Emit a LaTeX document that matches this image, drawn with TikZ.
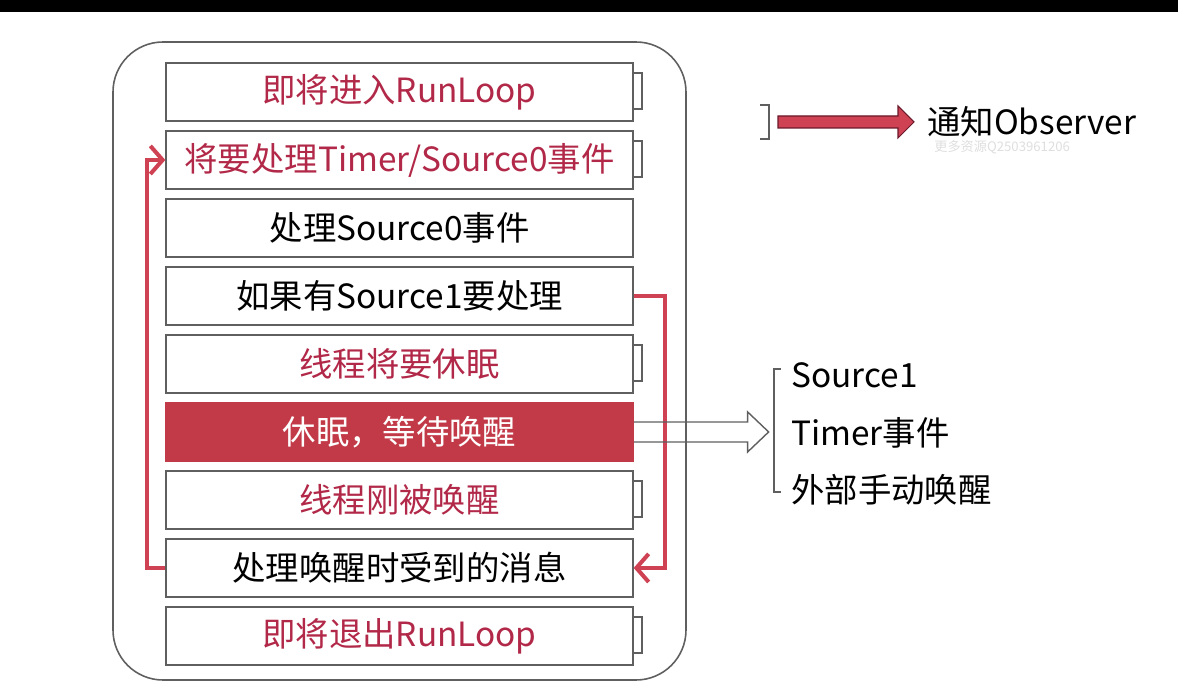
\documentclass[tikz,border=0pt]{standalone}
\usepackage{fontspec}
\setmainfont{Noto Sans CJK SC}
\usetikzlibrary{positioning, calc, arrows.meta, math}
\definecolor{rlred}{RGB}{178,40,72}
\definecolor{rlfill}{RGB}{194,58,72}
\definecolor{rlarrow}{RGB}{206,66,84}
\definecolor{rlgray}{RGB}{95,95,95}
\tikzset{
  stage/.style={draw=rlgray, line width=0.8pt, fill=white, minimum width=9.34cm,
    minimum height=1.16cm, inner sep=0pt, font=\fontsize{19}{22}\selectfont},
  obs/.style={stage, text=rlred},
  tab/.style={draw=rlgray, line width=1pt},
  loopline/.style={draw=rlarrow, line width=2.3pt, line join=miter,
    -{Straight Barb[length=7pt,width=16pt,line width=2.3pt]}},
  side/.style={anchor=west, inner sep=0pt, font=\fontsize{19}{22}\selectfont},
}

\begin{document}
\begin{tikzpicture}[x=0.02cm, y=-0.02cm]

\tikzmath{
\bx = 399.5; %centre of the stage boxes
\gap = 0.172;  %cm between boxes
}

\useasboundingbox (0,0) rectangle (1178,692);
\fill[black] (0,0) rectangle (1178,12);

%runloop frame:
\draw[rlgray, line width=0.9pt, rounded corners=1cm] (113,42) rectangle (686,680);

%stages:
\node[obs] (enter) at (\bx,92) {即将进入RunLoop};
\node[obs, below=\gap cm of enter] (timer) {将要处理Timer/Source0事件};
\node[stage, below=\gap cm of timer] (src0) {处理Source0事件};
\node[stage, below=\gap cm of src0] (src1) {如果有Source1要处理};
\node[obs, below=\gap cm of src1] (presleep) {线程将要休眠};
\node[stage, fill=rlfill, draw=rlfill, text=white, below=\gap cm of presleep] (sleep) {休眠，等待唤醒};
\node[obs, below=\gap cm of sleep] (woke) {线程刚被唤醒};
\node[stage, below=\gap cm of woke] (handle) {处理唤醒时受到的消息};
\node[obs, below=\gap cm of handle] (exit) {即将退出RunLoop};

%observer tabs
\foreach \n in {enter,timer,presleep,woke,exit}
  \draw[tab] (\n.north east) ++(0,11) -| ++(8,36) -- ++(-8,0);

%loop arrows:
\draw[loopline] (handle.west) -- ++(-18,0) |- (timer.west);
\draw[loopline] (src1.east) -- ++(31,0) |- (handle.east);

%wake up sources
\coordinate (tip) at ($(sleep.east)+(135,0)$);
\draw[rlgray, line width=0.8pt] ($(sleep.east)+(0,-10)$) -- ($(tip)+(-21,-10)$)
  -- ($(tip)+(-21,-20)$) -- (tip) -- ($(tip)+(-21,20)$) -- ($(tip)+(-21,10)$)
  -- ($(sleep.east)+(0,10)$);
\draw[rlgray, line width=0.6pt] (781,369) -- (774,369) -- (774,492) -- (781,492);
\node[side] (s1) at (791,375) {Source1};
\node[side] (tm) at (791,433) {Timer事件};
\node[side] (ext) at (791,490) {外部手动唤醒};

%legend
\draw[tab] (760,105) -- (769,105) -- (769,139) -- (760,139);
\draw[fill=rlarrow, draw=rlred!60!black, line width=0.6pt] (778,116) -- (898,116) -- (898,106)
  -- (914,122) -- (898,138) -- (898,128) -- (778,128) -- cycle;
\node[side] (notify) at (927,122) {通知Observer};
\node[anchor=west, inner sep=0pt, text=black!13, font=\fontsize{7.5}{9}\selectfont]
  (mark) at (934,147) {更多资源Q2503961206};

\end{tikzpicture}
\end{document}
